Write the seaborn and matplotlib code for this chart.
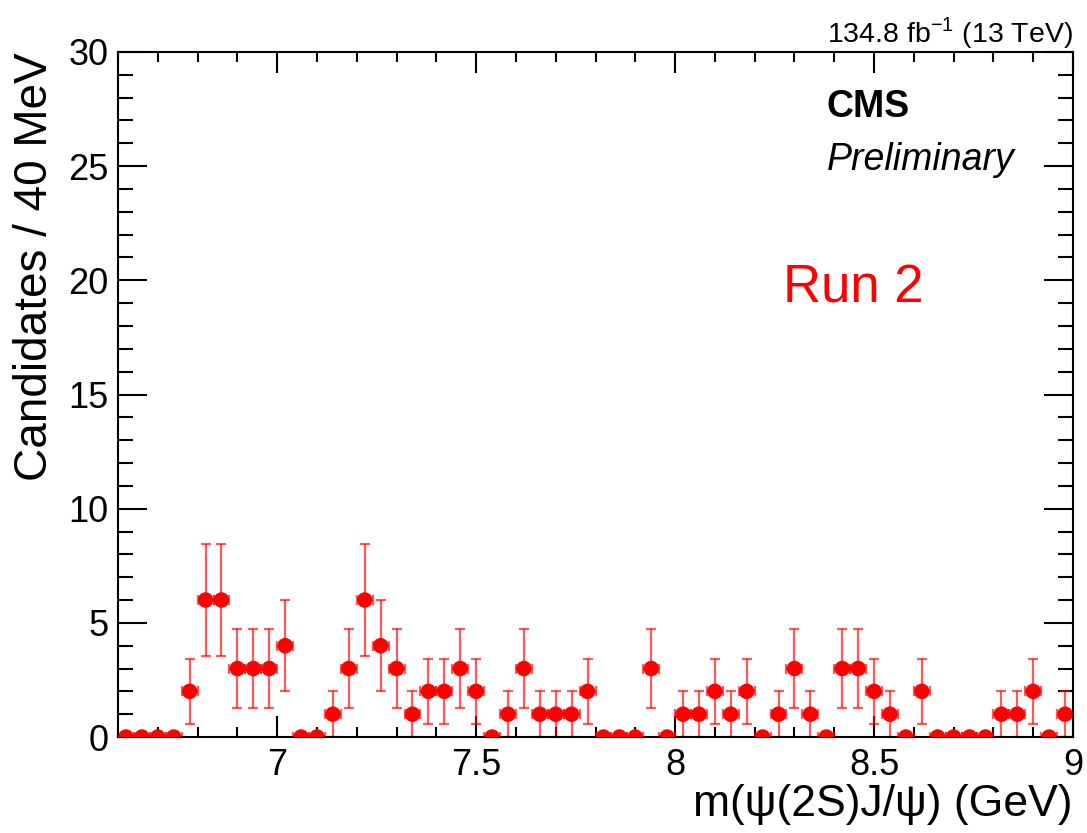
import numpy as np
import pandas as pd
import matplotlib
matplotlib.use("Agg")
import matplotlib.pyplot as plt
from matplotlib.ticker import MultipleLocator
import seaborn as sns

# Histogram definition: 40 MeV bins from 6.6 to 9.0 GeV
mass_lo = 6.6
mass_hi = 9.0
bin_width = 0.04

# Candidates per bin
counts = [0, 0, 0, 0, 2, 6, 6, 3, 3, 3,
          4, 0, 0, 1, 3, 6, 4, 3, 1, 2,
          2, 3, 2, 0, 1, 3, 1, 1, 1, 2,
          0, 0, 0, 3, 0, 1, 1, 2, 1, 2,
          0, 1, 3, 1, 0, 3, 3, 2, 1, 0,
          2, 0, 0, 0, 0, 1, 1, 2, 0, 1]

lumi_text = r"134.8 fb$^{-1}$ (13 TeV)"
x_title = "m(ψ(2S)J/ψ) (GeV)"
y_title = "Candidates / 40 MeV"

edges = np.arange(len(counts) + 1) * bin_width + mass_lo
df = pd.DataFrame({
    "mass": (edges[:-1] + edges[1:]) / 2,
    "count": counts,
})
df["err"] = np.sqrt(df["count"])

sns.set_theme(style="ticks")
plt.rcParams["font.family"] = ["Liberation Sans", "DejaVu Sans"]
plt.rcParams["mathtext.fontset"] = "custom"
plt.rcParams["mathtext.rm"] = "Liberation Sans"
plt.rcParams["text.color"] = "black"
plt.rcParams["axes.labelcolor"] = "black"
plt.rcParams["xtick.color"] = "black"
plt.rcParams["ytick.color"] = "black"

fig = plt.figure(figsize=(10.87, 8.33), dpi=100)
ax = fig.add_axes([0.1086, 0.1152, 0.8785, 0.8224])

# error bars (poisson, sqrt N) and half-bin horizontal bars
ax.errorbar(df["mass"], df["count"], xerr=bin_width / 2, yerr=df["err"],
            fmt="none", ecolor="red", alpha=0.65, elinewidth=1.6,
            capsize=3.5, capthick=1.6, zorder=2)
sns.scatterplot(data=df, x="mass", y="count", color="red", s=125,
                edgecolor="none", ax=ax, zorder=3, legend=False)

ax.set_xlim(mass_lo, mass_hi)
ax.set_ylim(0, 30)

ax.xaxis.set_major_locator(MultipleLocator(0.5))
ax.xaxis.set_minor_locator(MultipleLocator(0.1))
ax.yaxis.set_major_locator(MultipleLocator(5))
ax.yaxis.set_minor_locator(MultipleLocator(1))
ax.set_xticks([7, 7.5, 8, 8.5, 9])
ax.set_xticklabels(["7", "7.5", "8", "8.5", "9"])
ax.set_yticks([0, 5, 10, 15, 20, 25, 30])
ax.set_yticklabels(["0", "5", "10", "15", "20", "25", "30"])

ax.tick_params(axis="both", which="both", direction="in", top=True, right=True,
               width=1.5, colors="black", labelsize=26)
ax.tick_params(axis="x", which="major", length=15, pad=8)
ax.tick_params(axis="x", which="minor", length=7.5)
ax.tick_params(axis="y", which="major", length=21, pad=7)
ax.tick_params(axis="y", which="minor", length=11)
for sp in ax.spines.values():
    sp.set_linewidth(1.5)
    sp.set_color("black")

ax.set_xlabel(x_title, fontsize=32, loc="right")
ax.set_ylabel(y_title, fontsize=33, loc="top")
ax.xaxis.set_label_coords(1.0, -0.068)
ax.yaxis.set_label_coords(-0.064, 1.0)

ax.text(1.0, 1.0146, lumi_text, transform=ax.transAxes, ha="right",
        va="baseline", fontsize=20.5)
ax.text(0.742, 0.905, "CMS", transform=ax.transAxes, ha="left",
        va="baseline", fontsize=27, fontweight="bold")
ax.text(0.742, 0.828, "Preliminary", transform=ax.transAxes, ha="left",
        va="baseline", fontsize=27, fontstyle="italic")
ax.text(0.696, 0.634, "Run 2", transform=ax.transAxes, ha="left",
        va="baseline", fontsize=38, color="red")

fig.savefig("out.png", dpi=100)
